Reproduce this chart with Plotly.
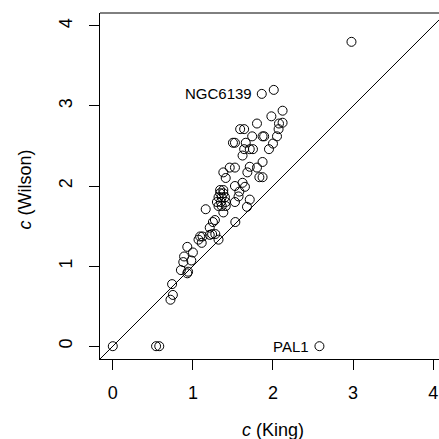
import plotly.graph_objects as go

king = [2.98, 1.86, 2.01, 2.58, 0.0, 0.54, 0.58,
        2.12, 1.98, 1.80, 2.075, 2.12, 2.07, 1.59, 1.64, 1.74, 1.87, 1.89, 2.05,
        1.50, 1.525, 1.66, 2.00, 1.64, 1.71, 1.75, 1.95, 1.62, 1.87, 1.80, 1.71,
        1.46, 1.525, 1.68, 1.38, 1.41, 1.83, 1.87, 1.62, 1.65, 1.525, 1.58,
        1.34, 1.38, 1.34, 1.38, 1.32, 1.36, 1.40, 1.30, 1.35, 1.41, 1.32, 1.36, 1.41, 1.38,
        1.525, 1.57, 1.71, 1.675, 1.16, 1.53, 1.275, 1.25, 1.21,
        1.09, 1.12, 1.07, 1.11, 1.21, 1.24, 1.28, 1.32,
        0.93, 1.00, 0.89, 0.88, 0.98, 0.85, 0.93, 0.94, 0.74, 0.75, 0.72]
wilson = [3.80, 3.15, 3.20, 0.0, 0.0, 0.0, 0.0,
          2.94, 2.87, 2.78, 2.78, 2.79, 2.71, 2.71, 2.71, 2.62, 2.62, 2.62, 2.62,
          2.54, 2.54, 2.54, 2.53, 2.46, 2.46, 2.46, 2.46, 2.38, 2.30, 2.23, 2.24,
          2.23, 2.23, 2.17, 2.17, 2.10, 2.11, 2.11, 2.04, 1.99, 2.00, 1.93,
          1.95, 1.95, 1.91, 1.91, 1.86, 1.86, 1.86, 1.80, 1.80, 1.80, 1.75, 1.75, 1.75, 1.67,
          1.80, 1.87, 1.83, 1.74, 1.71, 1.55, 1.575, 1.55, 1.48,
          1.37, 1.37, 1.33, 1.29, 1.39, 1.40, 1.40, 1.33,
          1.24, 1.17, 1.12, 1.05, 1.07, 0.95, 0.91, 0.93, 0.775, 0.64, 0.58]

labels = ["NGC6139", "PAL1"]
label_x = [1.86, 2.58]
label_y = [3.15, 0.0]

ticks = [0, 1, 2, 3, 4]
diag = [-0.5, 4.5]

FONT = "Liberation Sans, Arial, Helvetica, sans-serif"

fig = go.Figure()
fig.add_trace(go.Scatter(x=diag, y=diag, mode="lines",
                         line=dict(color="black", width=1), hoverinfo="skip"))
fig.add_trace(go.Scatter(x=king, y=wilson, mode="markers",
                         marker=dict(symbol="circle-open", size=9,
                                     color="black", line=dict(width=1, color="black"))))
for t, lx, ly in zip(labels, label_x, label_y):
    fig.add_annotation(x=lx, y=ly, text=t, showarrow=False, xanchor="right",
                       yanchor="middle", xshift=-8,
                       font=dict(family=FONT, size=15, color="black"))

fig.add_shape(type="line", xref="paper", yref="paper", x0=0, x1=1.1, y0=1, y1=1,
              line=dict(color="black", width=1))

fig.add_annotation(xref="paper", yref="paper", x=0.51, y=-0.205,
                   text="<i>c</i> (King)", showarrow=False,
                   xanchor="center", yanchor="middle",
                   font=dict(family=FONT, size=18, color="black"))
fig.add_annotation(xref="paper", yref="paper", x=-0.221, y=0.49,
                   text="<i>c</i> (Wilson)", showarrow=False, textangle=-90,
                   xanchor="center", yanchor="middle",
                   font=dict(family=FONT, size=18, color="black"))

fig.update_layout(
    width=439, height=439,
    margin=dict(l=100, r=0, t=13, b=80),
    paper_bgcolor="white", plot_bgcolor="white",
    showlegend=False,
    font=dict(family=FONT, size=18, color="black"),
    xaxis=dict(range=[-0.16, 4.073], tickvals=ticks, ticktext=[str(t) for t in ticks],
               ticks="outside", ticklen=10, tickwidth=1, tickcolor="black",
               ticklabelstandoff=7,
               showline=True, linecolor="black", linewidth=1, showgrid=False,
               zeroline=False, fixedrange=True),
    yaxis=dict(range=[-0.16, 4.16], tickvals=ticks, ticktext=[str(t) for t in ticks],
               ticks="outside", ticklen=10, tickwidth=1, tickcolor="black",
               tickangle=-90, ticklabelstandoff=10,
               showline=True, linecolor="black", linewidth=1, showgrid=False,
               zeroline=False, fixedrange=True),
)

fig.write_html("out.html")
